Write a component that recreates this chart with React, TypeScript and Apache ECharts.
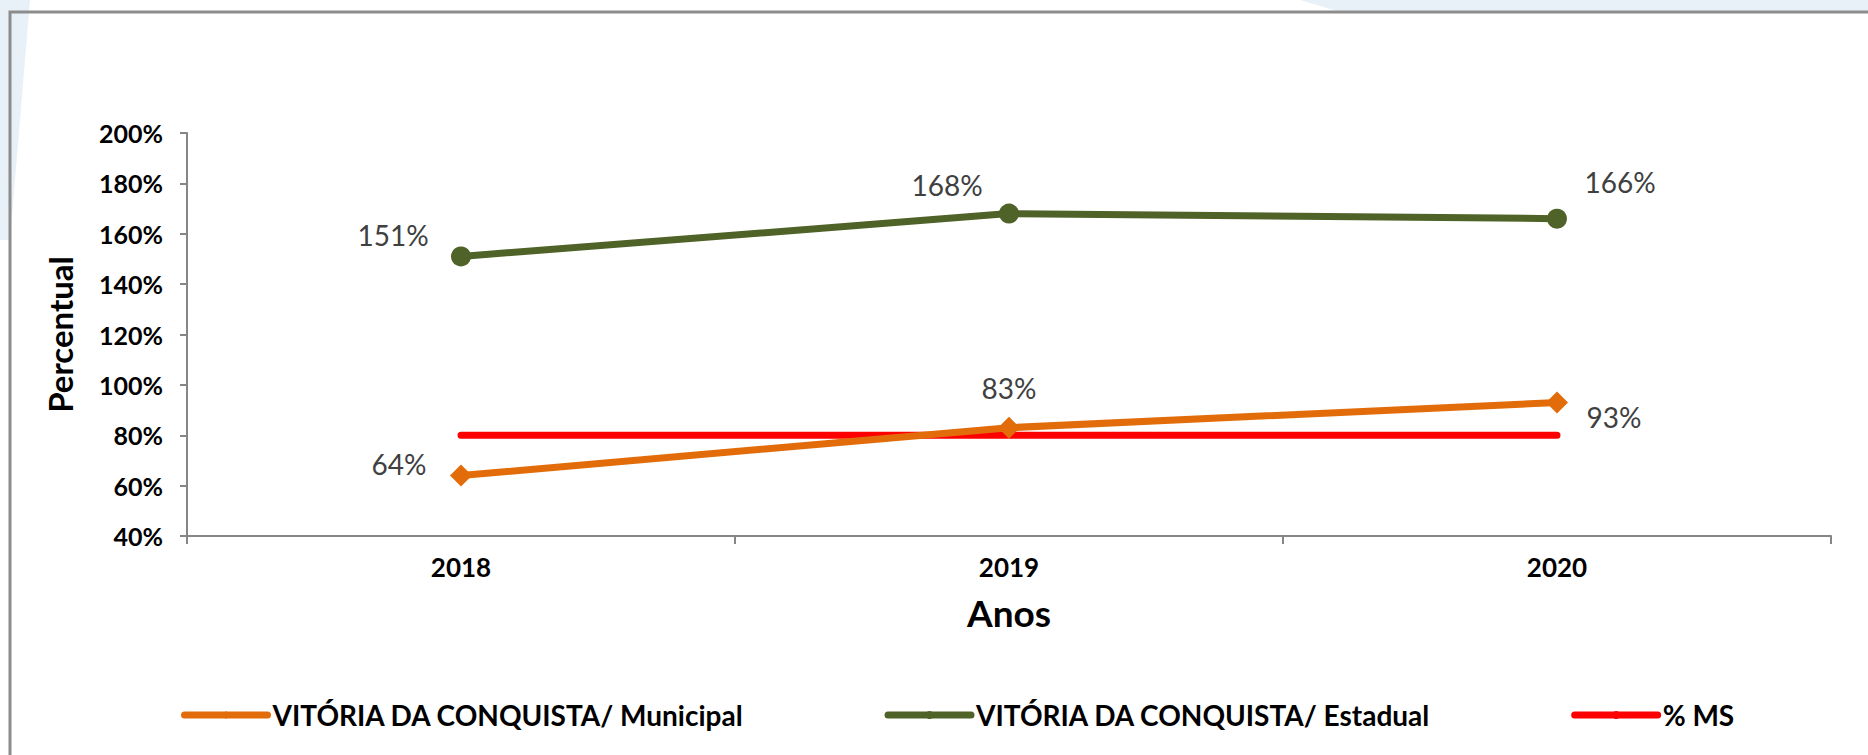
import React, { useEffect, useRef } from "react";
import * as echarts from "echarts";

const years = ["2018", "2019", "2020"];
const municipal = [64, 83, 93];
const estadual = [151, 168, 166];
const msTarget = [80, 80, 80];
const seriesNames = [
  "VITÓRIA DA CONQUISTA/ Municipal",
  "VITÓRIA DA CONQUISTA/ Estadual",
  "% MS",
];

const municipalLabelOffsets = [[-62, -12], [0, -40], [57, 14]];
const estadualLabelOffsets = [[-68, -21], [-62, -29], [63, -37]];

const FONT = "Lato, 'Open Sans', sans-serif";
const ORANGE = "#E36C0A";
const GREEN = "#4F6228";
const RED = "#FF0000";
const AXIS = "#868686";

export default function App() {
  const ref = useRef<HTMLDivElement>(null);
  useEffect(() => {
    const chart = echarts.init(ref.current!, null, { renderer: "svg" });
    const labelStyle = {
      show: true,
      position: "inside",
      formatter: (p: any) => `${p.value}%`,
      fontFamily: FONT,
      fontSize: 28,
      color: "#404040",
    };
    chart.setOption({
      animation: false,
      backgroundColor: "#ffffff",
      textStyle: { fontFamily: FONT },
      graphic: [
        {
          type: "polygon",
          shape: { points: [[0, 0], [30, 0], [10, 240], [0, 240]] },
          style: { fill: "#e9f1f8" },
          silent: true,
        },
        {
          type: "polygon",
          shape: { points: [[1300, 0], [1868, 0], [1868, 12], [1340, 12]] },
          style: { fill: "#e9f1f8" },
          silent: true,
        },
        {
          type: "rect",
          shape: { x: 10, y: 12, width: 1900, height: 800 },
          style: { fill: "none", stroke: "#8c8c8c", lineWidth: 3 },
          silent: true,
        },
      ],
      grid: { left: 187, right: 37, top: 133, bottom: 219 },
      legend: {
        left: 176,
        top: 696,
        itemGap: 140,
        itemWidth: 83,
        itemHeight: 10,
        lineStyle: { width: 7, cap: "round" },
        textStyle: { fontFamily: FONT, fontSize: 28, fontWeight: "bold", color: "#000" },
        data: seriesNames,
      },
      xAxis: {
        type: "category",
        data: years,
        boundaryGap: true,
        name: "Anos",
        nameLocation: "middle",
        nameGap: 58,
        nameTextStyle: { fontFamily: FONT, fontSize: 37, fontWeight: "bold", color: "#000" },
        axisLine: { show: true, lineStyle: { color: AXIS, width: 2 } },
        axisTick: { show: true, length: 8, lineStyle: { color: AXIS, width: 2 } },
        axisLabel: { margin: 18, fontFamily: FONT, fontSize: 26, fontWeight: "bold", color: "#000" },
      },
      yAxis: {
        type: "value",
        min: 40,
        max: 200,
        interval: 20,
        name: "Percentual",
        nameLocation: "middle",
        nameGap: 111,
        nameRotate: 90,
        nameTextStyle: { fontFamily: FONT, fontSize: 33, fontWeight: "bold", color: "#000" },
        axisLine: { show: true, lineStyle: { color: AXIS, width: 2 } },
        axisTick: { show: true, length: 7, lineStyle: { color: AXIS, width: 2 } },
        splitLine: { show: false },
        axisLabel: {
          margin: 24,
          formatter: "{value}%",
          fontFamily: FONT,
          fontSize: 25,
          fontWeight: "bold",
          color: "#000",
        },
      },
      series: [
        {
          name: seriesNames[0],
          type: "line",
          data: municipal.map((v, i) => ({
            value: v,
            label: { ...labelStyle, offset: municipalLabelOffsets[i] },
          })),
          symbol: "diamond",
          symbolSize: 22,
          itemStyle: { color: ORANGE },
          lineStyle: { color: ORANGE, width: 7 },
          z: 3,
        },
        {
          name: seriesNames[1],
          type: "line",
          data: estadual.map((v, i) => ({
            value: v,
            label: { ...labelStyle, offset: estadualLabelOffsets[i] },
          })),
          symbol: "circle",
          symbolSize: 20,
          itemStyle: { color: GREEN },
          lineStyle: { color: GREEN, width: 7 },
          z: 3,
        },
        {
          name: seriesNames[2],
          type: "line",
          data: msTarget,
          symbol: "none",
          showSymbol: false,
          itemStyle: { color: RED },
          lineStyle: { color: RED, width: 7, cap: "round" },
          z: 2,
        },
      ],
    });
    return () => chart.dispose();
  }, []);
  return (
    <div
      ref={ref}
      style={{ position: "fixed", left: 0, top: 0, width: 1868, height: 755 }}
    />
  );
}
